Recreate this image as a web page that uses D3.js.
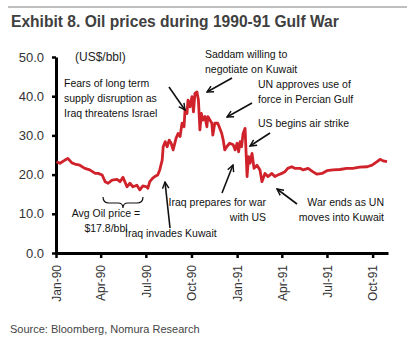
<!DOCTYPE html>
<html lang="en">
  <head>
    <meta charset="UTF-8" />
    <title>Oil prices during 1990-91 Gulf War</title>
    <script src="https://d3js.org/d3.v7.min.js"></script>
    <style>
      body {
        margin: 0;
        background: #fff;
      }
      svg {
        font-family: "Liberation Sans", Arial, sans-serif;
      }
      .note {
        font-size: 10.5px;
        fill: #111;
      }
      .arrow {
        stroke: #111;
        stroke-width: 1.6;
        fill: none;
      }
    </style>
  </head>
  <body>
    <svg id="chart" width="415" height="345"></svg>
    <script>
      // Oil price, US$/bbl
      const dates = [
        "1990-01-02", "1990-01-09", "1990-01-19", "1990-01-25", "1990-02-02", "1990-02-08",
        "1990-02-18", "1990-02-28", "1990-03-10", "1990-03-21", "1990-03-27", "1990-04-04",
        "1990-04-10", "1990-04-16", "1990-04-24", "1990-05-04", "1990-05-10", "1990-05-16",
        "1990-05-24", "1990-05-30", "1990-06-05", "1990-06-13", "1990-06-19", "1990-06-25",
        "1990-07-03", "1990-07-05", "1990-07-09", "1990-07-15", "1990-07-19", "1990-07-25",
        "1990-07-29", "1990-08-03", "1990-08-05", "1990-08-09", "1990-08-13", "1990-08-17",
        "1990-08-21", "1990-08-25", "1990-08-31", "1990-09-04", "1990-09-08", "1990-09-12",
        "1990-09-16", "1990-09-18", "1990-09-22", "1990-09-24", "1990-09-28", "1990-10-02",
        "1990-10-05", "1990-10-08", "1990-10-12", "1990-10-15", "1990-10-18", "1990-10-21",
        "1990-10-24", "1990-10-28", "1990-11-01", "1990-11-03", "1990-11-11", "1990-11-13",
        "1990-11-17", "1990-11-23", "1990-11-27", "1990-12-01", "1990-12-04", "1990-12-07",
        "1990-12-11", "1990-12-17", "1990-12-24", "1990-12-28", "1991-01-01", "1991-01-04",
        "1991-01-07", "1991-01-10", "1991-01-13", "1991-01-17", "1991-01-21", "1991-01-24",
        "1991-01-27", "1991-01-31", "1991-02-04", "1991-02-10", "1991-02-16", "1991-02-20",
        "1991-02-26", "1991-03-04", "1991-03-12", "1991-03-18", "1991-03-24", "1991-04-01",
        "1991-04-07", "1991-04-13", "1991-04-21", "1991-04-27", "1991-05-08", "1991-05-14",
        "1991-05-24", "1991-06-03", "1991-06-11", "1991-06-21", "1991-07-01", "1991-07-13",
        "1991-07-27", "1991-08-10", "1991-08-22", "1991-09-05", "1991-09-20", "1991-09-30",
        "1991-10-10", "1991-10-16", "1991-10-22", "1991-10-30"
      ];
      const prices = [
        23.3, 22.9, 23.7, 24.1, 23.0, 22.7,
        22.4, 21.6, 21.2, 20.3, 20.3, 19.9,
        18.2, 17.8, 18.6, 18.8, 18.2, 19.3,
        16.9, 17.8, 16.9, 17.3, 16.1, 17.1,
        16.9, 16.5, 18.2, 19.1, 19.5, 19.9,
        21.2, 23.7, 27.1, 28.4, 27.1, 28.8,
        28.0, 26.3, 29.3, 30.5, 29.7, 33.1,
        32.2, 36.5, 35.6, 39.0, 37.3, 39.9,
        36.0, 40.7, 41.1, 39.0, 31.4, 35.6,
        33.9, 34.8, 32.2, 34.8, 33.1, 30.1,
        33.1, 33.1, 31.8, 30.5, 28.8, 26.3,
        27.1, 28.0, 27.6, 26.3, 28.0, 25.8,
        28.4, 27.1, 30.5, 31.8, 19.5, 24.6,
        22.9, 25.4, 21.6, 22.4, 21.2, 18.2,
        20.3, 19.5, 20.3, 19.5, 19.9, 20.3,
        20.7, 21.6, 22.0, 21.6, 21.6, 21.2,
        21.6, 20.7, 20.1, 20.3, 21.0, 21.2,
        21.3, 21.6, 21.6, 21.9, 22.0, 22.4,
        23.3, 23.9, 23.5, 23.3
      ];
      const tickDates = ["1990-01-01", "1990-04-01", "1990-07-01", "1990-10-01",
                         "1991-01-01", "1991-04-01", "1991-07-01", "1991-10-01"];
      const yTicks = [0, 10, 20, 30, 40, 50];

      const parse = d3.timeParse("%Y-%m-%d");
      const data = dates.map((d, i) => ({ date: parse(d), value: prices[i] }));

      const svg = d3.select("#chart");

      const x = d3
        .scaleTime()
        .domain([parse("1990-01-01"), parse("1991-11-01")])
        .range([56, 388]);
      const y = d3.scaleLinear().domain([0, 50]).range([253, 57]);

      // title + rule above it
      svg.append("line")
        .attr("x1", 8).attr("x2", 407).attr("y1", 7).attr("y2", 7)
        .attr("stroke", "#7f7f7f").attr("stroke-width", 1);
      svg.append("text")
        .attr("x", 11).attr("y", 27)
        .attr("font-size", 15.6).attr("font-weight", "bold").attr("fill", "#404040")
        .text("Exhibit 8. Oil prices during 1990-91 Gulf War");

      // axes
      const yAxis = svg.append("g")
        .attr("transform", "translate(56,0)")
        .call(d3.axisLeft(y).tickValues(yTicks).tickFormat(d3.format(".1f"))
          .tickSize(4).tickPadding(8).tickSizeOuter(0));
      yAxis.select(".domain").attr("stroke-width", 3);
      yAxis.selectAll(".tick line").attr("stroke-width", 2.5);
      yAxis.selectAll("text").attr("font-size", 13).attr("fill", "#333")
        .attr("font-family", "Liberation Sans, Arial, sans-serif");

      const xAxis = svg.append("g")
        .attr("transform", "translate(0,253)")
        .call(d3.axisBottom(x).tickValues(tickDates.map(parse))
          .tickFormat(d3.timeFormat("%b-%y")).tickSize(5).tickSizeOuter(0));
      xAxis.select(".domain").attr("stroke-width", 3);
      xAxis.selectAll(".tick line").attr("stroke-width", 2.5);
      xAxis.selectAll("text")
        .attr("font-size", 12).attr("fill", "#333")
        .attr("font-family", "Liberation Sans, Arial, sans-serif")
        .attr("transform", "rotate(-90)")
        .attr("x", -12).attr("y", 0).attr("dy", "0.35em")
        .attr("text-anchor", "end");

      // price line
      const line = d3.line().x((d) => x(d.date)).y((d) => y(d.value));
      svg.append("path")
        .datum(data)
        .attr("d", line)
        .attr("fill", "none")
        .attr("stroke", "#d0222b")
        .attr("stroke-width", 2.8)
        .attr("stroke-linejoin", "round");

      svg.append("text")
        .attr("x", 75).attr("y", 61).attr("font-size", 12).attr("fill", "#222")
        .text("(US$/bbl)");

      // arrow head
      svg.append("defs").append("marker")
        .attr("id", "head")
        .attr("viewBox", "0 0 10 10")
        .attr("refX", 9).attr("refY", 5)
        .attr("markerWidth", 5).attr("markerHeight", 5)
        .attr("orient", "auto")
        .append("path")
        .attr("d", "M1,1 L9,5 L1,9")
        .attr("fill", "none").attr("stroke", "#111").attr("stroke-width", 1.8);

      // annotations
      const notes = [
        { lines: ["Fears of long term", "supply disruption as", "Iraq threatens Israel"], x: 64, y: 87, anchor: "start" },
        { lines: ["Saddam willing to", "negotiate on Kuwait"], x: 205, y: 58, anchor: "start" },
        { lines: ["UN approves use of", "force in Percian Gulf"], x: 258, y: 88, anchor: "start" },
        { lines: ["US begins air strike"], x: 258, y: 127, anchor: "start" },
        { lines: ["Avg Oil price =", "$17.8/bbl"], x: 106, y: 217, anchor: "middle" },
        { lines: ["Iraq invades Kuwait"], x: 125, y: 237, anchor: "start" },
        { lines: ["Iraq prepares for war", "with US"], x: 266, y: 206, anchor: "end" },
        { lines: ["War ends as UN", "moves into Kuwait"], x: 384, y: 206, anchor: "end" }
      ];
      notes.forEach((n) => {
        const t = svg.append("text").attr("class", "note")
          .attr("x", n.x).attr("y", n.y).attr("text-anchor", n.anchor);
        n.lines.forEach((l, i) => {
          t.append("tspan").attr("x", n.x).attr("dy", i === 0 ? 0 : 15).text(l);
        });
      });

      const arrows = [
        [169, 87, 185, 110],
        [232, 78, 207, 92],
        [252, 103, 227, 117],
        [270, 133, 250, 146],
        [170, 228, 165, 182],
        [222, 193, 233, 165],
        [297, 204, 277, 189]
      ];
      svg.selectAll(".arrow")
        .data(arrows)
        .join("line")
        .attr("class", "arrow")
        .attr("x1", (d) => d[0]).attr("y1", (d) => d[1])
        .attr("x2", (d) => d[2]).attr("y2", (d) => d[3])
        .attr("marker-end", "url(#head)");

      // brace under the avg-price period
      svg.append("path")
        .attr("d", "M103,197 Q103,203 109,203 L118,203 Q123,203 123,208 Q123,203 128,203 L137,203 Q143,203 143,197")
        .attr("fill", "none").attr("stroke", "#111").attr("stroke-width", 1.2);

      svg.append("text")
        .attr("x", 10).attr("y", 333).attr("font-size", 11).attr("fill", "#444")
        .text("Source: Bloomberg, Nomura Research");
    </script>
  </body>
</html>
